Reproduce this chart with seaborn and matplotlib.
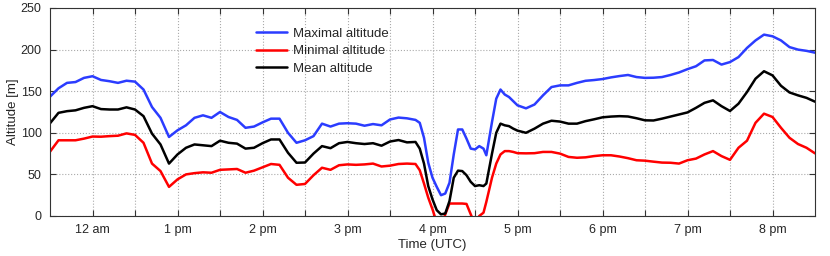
import pandas as pd
import numpy as np
import matplotlib
matplotlib.use("Agg")
import matplotlib.pyplot as plt
import seaborn as sns

# sample times (UTC)
times = ["11:30", "11:36", "11:42", "11:48", "11:54", "12:00", "12:06", "12:12", "12:18", "12:24",
         "12:30", "12:36", "12:42", "12:48", "12:54", "13:00", "13:06", "13:12", "13:18", "13:24",
         "13:30", "13:36", "13:42", "13:48", "13:54", "14:00", "14:06", "14:12", "14:18", "14:24",
         "14:30", "14:36", "14:42", "14:48", "14:54", "15:00", "15:06", "15:12", "15:18", "15:24",
         "15:30", "15:36", "15:42", "15:48", "15:51", "15:54", "15:57", "16:00", "16:03", "16:06",
         "16:09", "16:12", "16:15", "16:18", "16:21", "16:24", "16:27", "16:30", "16:33", "16:36",
         "16:38", "16:42", "16:45", "16:48", "16:51", "16:54", "16:57", "17:00", "17:06", "17:12",
         "17:18", "17:24", "17:30", "17:36", "17:42", "17:48", "17:54", "18:00", "18:06", "18:12",
         "18:18", "18:24", "18:30", "18:36", "18:42", "18:48", "18:54", "19:00", "19:06", "19:12",
         "19:18", "19:24", "19:30", "19:36", "19:42", "19:48", "19:54", "20:00", "20:06", "20:12",
         "20:18", "20:24", "20:30"]

max_alt = [143.4, 153.5, 160, 161, 166, 168, 163.5, 162, 160, 162.6,
           161.5, 152, 131, 118, 95, 103, 109, 118, 121, 118,
           125, 119, 115.5, 106, 107.5, 112.5, 117, 117, 100, 88,
           91, 96, 111, 107.5, 111, 111.5, 111, 108.5, 110.5, 109,
           116, 118.3, 117.4, 115.5, 112, 94, 64, 46, 35, 25,
           27, 40, 74, 104, 104, 93, 81, 80, 84, 81,
           73, 113, 141, 152, 146, 143, 138, 133, 129.4, 134,
           145, 155, 157, 157, 160, 162.5, 163.4, 164.6, 166.6, 168.2,
           169.5, 167, 166, 166.2, 167, 169.5, 172.5, 176.5, 180, 187,
           187.5, 182, 185, 191, 202, 211, 218, 216, 211, 203,
           200, 198.5, 196.3]

min_alt = [77.3, 91, 91, 91, 93, 95.5, 95.3, 96, 96.5, 99.3,
           97.5, 88, 63, 54, 35, 44, 50, 51.5, 52.5, 52,
           55.5, 56, 56.5, 52, 54.5, 58.5, 62.5, 61.5, 46, 37.5,
           38.5, 49, 58, 55.5, 61, 62, 61.5, 62, 63, 59.5,
           60.5, 62.5, 63, 62.5, 55, 39, 22, 8, -8, -15,
           2, 15, 15, 15, 15, 14.5, 2, -10, 0, 4,
           17, 46, 63, 74, 78, 78, 77, 75.5, 75.3, 75.5,
           77, 77, 75, 71, 70, 70.5, 72, 73, 73, 71.5,
           69.5, 67, 66.5, 65.3, 64.2, 64, 63, 67, 69, 74,
           78, 72, 67.5, 82, 90.5, 112, 123, 119, 106, 94,
           86.5, 82, 75.3]

mean_alt = [111.4, 124, 126, 127, 130, 132, 128.5, 128, 128, 130.6,
            128, 120, 99, 86, 63, 74, 82, 86, 85, 84,
            90.5, 88, 87, 81, 82, 87.5, 92, 92, 76, 64,
            64.3, 75, 84, 81.5, 87.5, 89, 87.5, 86.5, 87.5, 84.5,
            89.5, 91.3, 88.5, 89, 81, 63, 36, 20, 7, 2,
            3, 18, 46, 54.5, 54, 49, 41, 36, 37, 36,
            39, 75, 100, 111, 109, 108, 105, 102.6, 100, 105,
            111, 114.5, 113.5, 111, 111, 114, 116.2, 118.6, 119.5, 120,
            119.6, 117.5, 115, 114.8, 117, 119.5, 122, 124.5, 130, 136,
            139, 132, 126.2, 135, 149, 165, 174, 169, 156.5, 148.5,
            145, 142, 137.4]

tick_times = ["12:00", "12:30", "13:00", "13:30", "14:00", "14:30", "15:00", "15:30", "16:00",
              "16:30", "17:00", "17:30", "18:00", "18:30", "19:00", "19:30", "20:00"]
tick_labels = ["12 am", "", "1 pm", "", "2 pm", "", "3 pm", "", "4 pm",
               "", "5 pm", "", "6 pm", "", "7 pm", "", "8 pm"]

day = "2013-06-01 "
df = pd.DataFrame({
    "time": pd.to_datetime([day + t for t in times]),
    "max": max_alt,
    "min": min_alt,
    "mean": mean_alt,
})

sns.set_style("ticks")
plt.rcParams["font.family"] = ["Liberation Sans", "DejaVu Sans"]
plt.rcParams["xtick.direction"] = "in"
plt.rcParams["ytick.direction"] = "in"
plt.rcParams["xtick.top"] = True
plt.rcParams["ytick.right"] = True

fig = plt.figure(figsize=(8.3, 2.56), dpi=100)
ax = fig.add_axes([50 / 830, 1 - 216 / 256, 765 / 830, 208 / 256])

sns.lineplot(data=df, x="time", y="max", color="#2b3cff", lw=1.8, label="Maximal altitude", ax=ax)
sns.lineplot(data=df, x="time", y="min", color="#ff0000", lw=1.8, label="Minimal altitude", ax=ax)
sns.lineplot(data=df, x="time", y="mean", color="#000000", lw=1.8, label="Mean altitude", ax=ax)

ax.set_xlim(pd.Timestamp(day + "11:30"), pd.Timestamp(day + "20:30"))
ax.set_ylim(0, 250)
ax.set_xticks(pd.to_datetime([day + t for t in tick_times]))
ax.set_xticklabels(tick_labels)
ax.set_yticks([0, 50, 100, 150, 200, 250])
ax.tick_params(labelsize=9, length=4, width=0.8, color="#333333", pad=6)
ax.grid(True, linestyle=":", color="#aaaaaa", linewidth=0.8)
for s in ax.spines.values():
    s.set_color("#333333")
    s.set_linewidth(0.8)

ax.set_xlabel("Time (UTC)", fontsize=9.5, labelpad=2)
ax.set_ylabel("Altitude [m]", fontsize=9.5, labelpad=1.5)

ax.legend(loc="upper left", bbox_to_anchor=(0.262, 0.93), frameon=False, fontsize=9.5,
          handlelength=2.4, labelspacing=0.38, handletextpad=0.4, borderaxespad=0)

fig.savefig("out.png", dpi=100)
